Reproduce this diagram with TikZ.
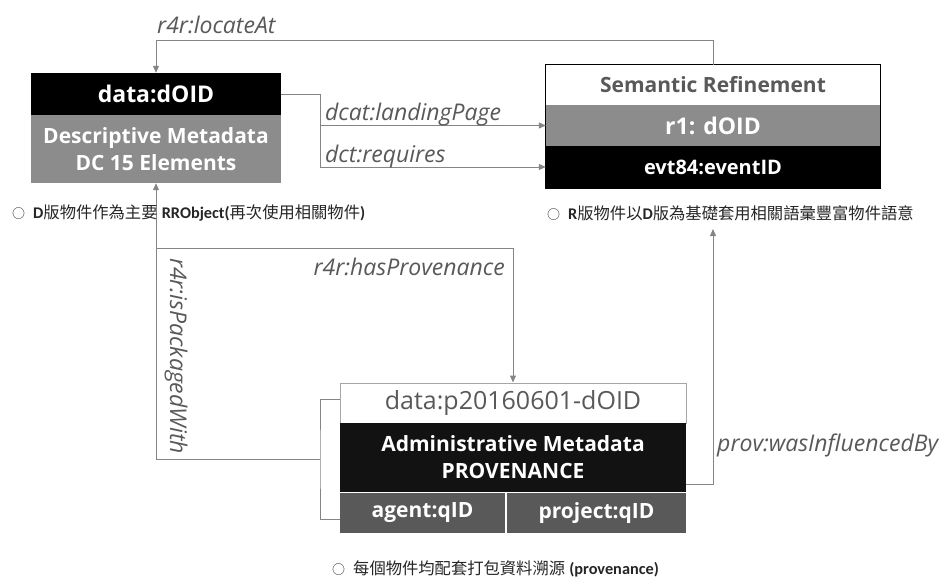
\documentclass[tikz,border=0pt]{standalone}
\usepackage{fontspec}
\setmainfont{Open Sans}
\newfontfamily\cjk{Noto Sans CJK TC}
\newfontfamily\notelat{Carlito}
\usetikzlibrary{arrows.meta,calc}

\definecolor{midgray}{HTML}{8C8C8C}
\definecolor{cellgray}{HTML}{595959}
\definecolor{linegray}{HTML}{858585}
\definecolor{labelgray}{HTML}{595959}
\definecolor{framegray}{HTML}{A6A6A6}

\newcommand\zh[1]{{\cjk #1}}
\newcommand\la[1]{{\notelat\bfseries #1}}
\newcommand\bul{{\cjk\fontsize{13}{13}\selectfont ○}\hspace{8pt}}

\tikzset{
  cell/.style={inner sep=0pt, align=center, text=white,
    font=\fontsize{21}{27}\selectfont\bfseries},
  conn/.style={draw=linegray, line width=1pt},
  arr/.style={conn, -{Triangle[length=7pt,width=6pt]}},
  rel/.style={font=\fontsize{23}{26}\selectfont\itshape, text=labelgray, inner sep=0pt},
  note/.style={font=\fontsize{16.3}{19}\selectfont, text=black!85, inner sep=0pt, anchor=west},
}

\begin{document}
\begin{tikzpicture}[x=1pt,y=-1pt]
\useasboundingbox (0,0) rectangle (945,579);
\fill[white] (0,0) rectangle (945,579);

% descriptive (D) object
\node[cell, fill=black, font=\fontsize{23}{27}\selectfont\bfseries,
  minimum width=250, minimum height=42] (dtop) at (156,94) {data:dOID};
\node[cell, fill=midgray, minimum width=250, minimum height=68] (dbot) at (156,149)
  {Descriptive Metadata\\DC 15 Elements};

% semantic refinement (R) object
\node[cell, fill=white, text=cellgray, minimum width=334, minimum height=40] (stop) at (713,85)
  {Semantic Refinement};
\node[cell, fill=midgray, font=\fontsize{23}{27}\selectfont\bfseries,
  minimum width=334, minimum height=41] (smid) at (713,125.5) {r1: dOID};
\node[cell, fill=black, font=\fontsize{20}{27}\selectfont\bfseries,
  minimum width=334, minimum height=42] (sbot) at (713,167) {evt84:eventID};
\draw[black, line width=1.2pt] (stop.north west) rectangle (sbot.south east);

% provenance package
\node[cell, fill=white, draw=framegray, line width=1pt, text=cellgray,
  font=\fontsize{25}{28}\selectfont, minimum width=346, minimum height=40] (ptop) at (513,403)
  {data:p20160601-dOID};
\node[cell, fill=black!93, minimum width=346, minimum height=69] (pmid) at (513,457.5)
  {Administrative Metadata\\PROVENANCE};
\node[cell, fill=cellgray, minimum width=165, minimum height=40] (pagent) at (422.5,513) {agent:qID};
\node[cell, fill=cellgray, minimum width=179, minimum height=40] (pproj) at (596.5,513) {project:qID};

% relations
\draw[arr] (stop.north) -- ++(0,-24) -| (dtop.north);
\node[rel, anchor=west] (llocate) at (157,25) {r4r:locateAt};

\coordinate (fork) at (320,94);
\draw[conn] (dtop.east) -- (fork);
\draw[arr] (fork) |- (smid.west);
\draw[arr] (fork) |- (sbot.west);
\node[rel, anchor=west] (llanding) at (325,115) {dcat:landingPage};
\node[rel, anchor=west] (lrequires) at (325,157) {dct:requires};

\coordinate (hp) at (156,248);
\draw[arr] (hp) -| (ptop.north);
\node[rel, anchor=east] (lprov) at (505,267) {r4r:hasProvenance};

\coordinate (brk) at (320,459);
\draw[conn] ([yshift=4pt]ptop.west) -| (brk) |- ([yshift=-6pt]pagent.west);
\draw[arr] (brk) -| (dbot.south);
\node[rel, rotate=-90] (lpack) at (176,356) {r4r:isPackagedWith};

\coordinate (wib) at (713,229);
\draw[arr] ([yshift=-27pt]pmid.east) -| (wib);
\node[rel, anchor=west] (linfl) at (717,445) {prov:wasInfluencedBy};

% notes
\node[note] (n1) at (12,213)
  {\bul\la{D}\zh{版物件作為主要} \la{RRObject(}\zh{再次使用相關物件}\la{)}};
\node[note] (n2) at (547,213)
  {\bul\la{R}\zh{版物件以}\la{D}\zh{版為基礎套用相關語彙豐富物件語意}};
\node[note] (n3) at (332,569)
  {\bul\zh{每個物件均配套打包資料溯源} \la{(provenance)}};
\end{tikzpicture}
\end{document}
